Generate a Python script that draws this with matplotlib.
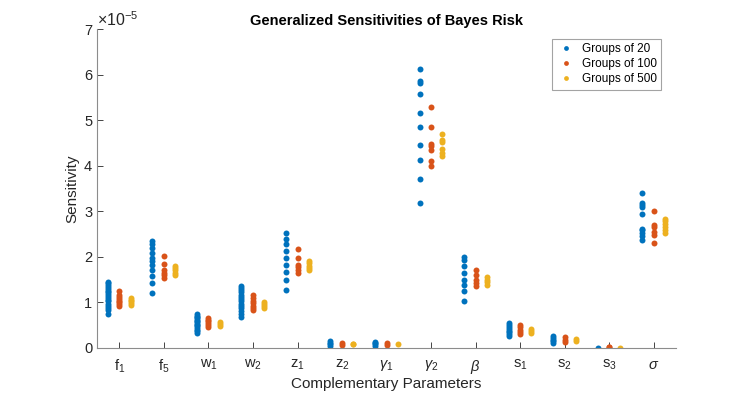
import matplotlib.pyplot as plt
import numpy as np

plt.rcParams['font.family'] = ['Liberation Sans', 'DejaVu Sans']
plt.rcParams['mathtext.fontset'] = 'custom'
plt.rcParams['mathtext.rm'] = 'Liberation Sans'
plt.rcParams['mathtext.it'] = 'Liberation Sans:italic'

params = ['f$_1$', 'f$_5$', 'w$_1$', 'w$_2$', 'z$_1$', 'z$_2$', r'$\gamma_1$',
          r'$\gamma_2$', r'$\beta$', 's$_1$', 's$_2$', 's$_3$', r'$\sigma$']

# sensitivities, in units of 1e-5
groups20 = [
    [0.75, 0.83, 0.88, 0.93, 0.97, 1.02, 1.06, 1.10, 1.14, 1.18, 1.22, 1.26, 1.30, 1.34, 1.38, 1.42, 1.45],
    [1.20, 1.42, 1.57, 1.70, 1.81, 1.90, 1.98, 2.08, 2.20, 2.28, 2.35],
    [0.33, 0.37, 0.40, 0.44, 0.47, 0.50, 0.53, 0.56, 0.59, 0.62, 0.65, 0.68, 0.71, 0.75],
    [0.68, 0.75, 0.82, 0.87, 0.92, 0.97, 1.02, 1.07, 1.12, 1.17, 1.22, 1.27, 1.32, 1.35],
    [1.27, 1.50, 1.66, 1.81, 1.98, 2.12, 2.28, 2.40, 2.53],
    [0.05, 0.08, 0.11, 0.14],
    [0.05, 0.08, 0.11, 0.13],
    [3.18, 3.72, 4.14, 4.47, 4.85, 5.17, 5.58, 5.82, 5.86, 6.12],
    [1.02, 1.25, 1.38, 1.50, 1.65, 1.80, 1.92, 2.00],
    [0.26, 0.30, 0.34, 0.38, 0.42, 0.46, 0.50, 0.54],
    [0.10, 0.14, 0.18, 0.22, 0.27],
    [0.005],
    [2.38, 2.45, 2.52, 2.58, 2.62, 2.94, 3.10, 3.15, 3.19, 3.41],
]
groups100 = [
    [0.92, 0.96, 1.00, 1.03, 1.07, 1.11, 1.16, 1.24],
    [1.54, 1.60, 1.64, 1.72, 1.85, 2.02],
    [0.46, 0.50, 0.54, 0.58, 0.62, 0.66],
    [0.83, 0.88, 0.93, 0.98, 1.03, 1.09, 1.16],
    [1.64, 1.72, 1.78, 1.81, 1.98, 2.17],
    [0.07, 0.10],
    [0.07, 0.10],
    [3.99, 4.10, 4.36, 4.43, 4.49, 4.85, 5.30],
    [1.35, 1.42, 1.50, 1.60, 1.72],
    [0.30, 0.35, 0.40, 0.45, 0.50],
    [0.12, 0.17, 0.23],
    [0.01, 0.015],
    [2.31, 2.48, 2.55, 2.66, 2.70, 3.01],
]
groups500 = [
    [0.95, 0.98, 1.02, 1.06, 1.10],
    [1.60, 1.65, 1.70, 1.75, 1.80],
    [0.48, 0.52, 0.56],
    [0.88, 0.92, 0.97, 1.01],
    [1.70, 1.75, 1.80, 1.86, 1.91],
    [0.08, 0.09],
    [0.08],
    [4.21, 4.29, 4.38, 4.52, 4.58, 4.71],
    [1.38, 1.45, 1.50, 1.55],
    [0.32, 0.37, 0.42],
    [0.14, 0.20],
    [0.005],
    [2.53, 2.60, 2.66, 2.72, 2.78, 2.84],
]

series = [('Groups of 20', groups20, '#0072BD', -0.26),
          ('Groups of 100', groups100, '#D95319', 0.0),
          ('Groups of 500', groups500, '#EDB120', 0.25)]

fig = plt.figure(figsize=(7.47, 3.93), dpi=100)
ax = fig.add_axes([0.13, 0.115, 0.775, 0.81])

for label, data, color, off in series:
    xs, ys = [], []
    for i, vals in enumerate(data):
        xs += [i + 1 + off] * len(vals)
        ys += vals
    ax.plot(xs, ys, 'o', color=color, markersize=4.3, markeredgewidth=0, label=label)

ax.set_xlim(0.5, 13.5)
ax.set_ylim(0, 7)
ax.set_xticks(np.arange(1, 14))
ax.set_xticklabels(params, fontsize=11)
ax.set_yticks(np.arange(0, 8))
ax.tick_params(direction='in', length=4, width=0.6, colors='#262626', labelsize=10.5)
ax.tick_params(axis='x', pad=7)
for s in ['top', 'right']:
    ax.spines[s].set_visible(False)
for s in ['left', 'bottom']:
    ax.spines[s].set_color('#8c8c8c')
    ax.spines[s].set_linewidth(0.8)

ax.text(0.0, 1.0, r'$\times10^{-5}$', transform=ax.transAxes, fontsize=11.5,
        color='#262626', ha='left', va='bottom')
ax.set_title('Generalized Sensitivities of Bayes Risk', fontsize=10.5, fontweight='bold', pad=3)
ax.set_xlabel('Complementary Parameters', fontsize=11, color='#262626', labelpad=1)
ax.set_ylabel('Sensitivity', fontsize=11, color='#262626', labelpad=3)

leg = ax.legend(loc='upper right', fontsize=8.5, frameon=True, fancybox=False,
                edgecolor='#8c8c8c', handlelength=1.5, handletextpad=0.6,
                borderpad=0.4, labelspacing=0.25, markerscale=0.8,
                bbox_to_anchor=(0.985, 0.99))
leg.get_frame().set_linewidth(0.8)

fig.savefig('out.png', dpi=100)
